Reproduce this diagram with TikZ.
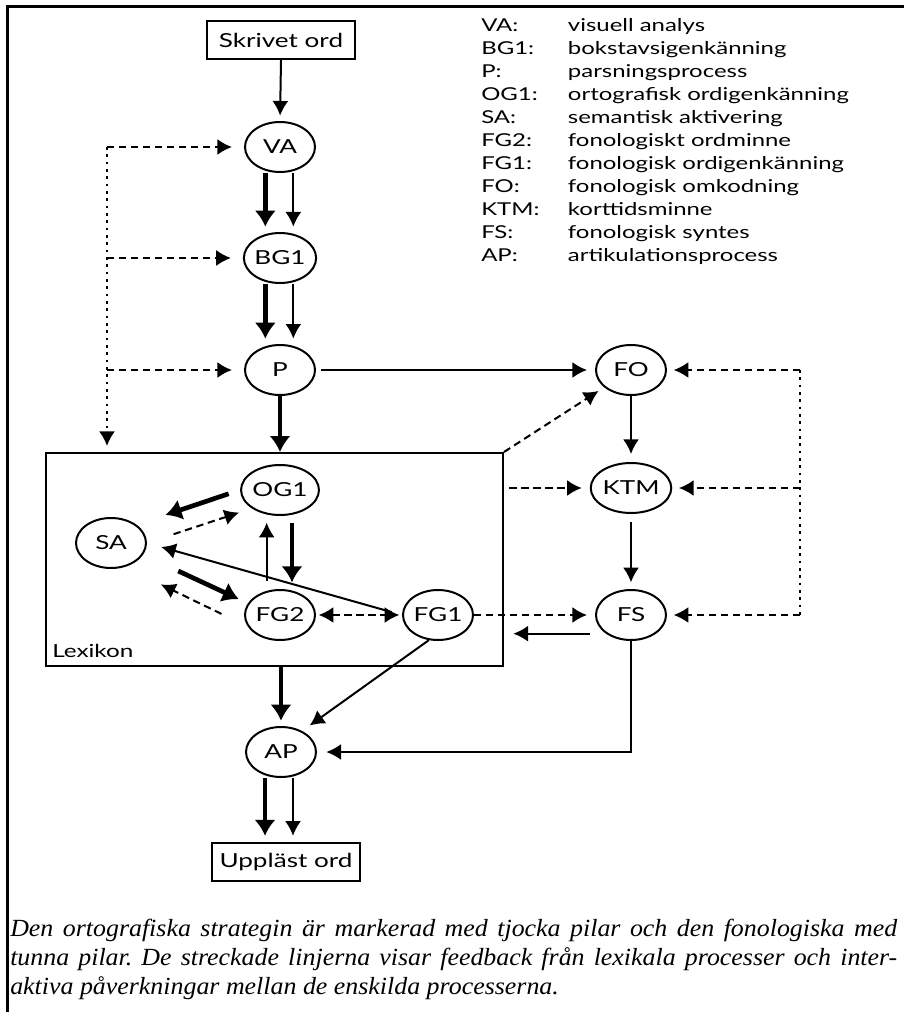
\documentclass[tikz,border=0pt]{standalone}
\usepackage{fontspec}
\newfontfamily\gillfont{Lato}[FakeStretch=1.35]
\newfontfamily\captfont{Liberation Serif}[FakeStretch=1.05]
\usetikzlibrary{arrows.meta,shapes.geometric}

\begin{document}
\begin{tikzpicture}[x=0.75pt, y=-0.75pt,
  proc/.style={draw, ellipse, line width=1.5pt, minimum width=52.5pt, minimum height=37.5pt, inner sep=0pt, font=\gillfont\fontsize{14.5}{16}\selectfont},
  endbox/.style={draw, rectangle, line width=1.8pt, minimum width=111pt, minimum height=28.5pt, inner sep=0pt, font=\gillfont\fontsize{14.5}{16}\selectfont},
  thinar/.style={line width=1.5pt, -{Latex[length=11pt,width=12pt]}},
  thickar/.style={line width=3.5pt, -{Latex[length=12pt,width=16pt]}},
  fb/.style={line width=1.5pt, dash pattern=on 5.5pt off 3.5pt, -{Latex[length=11pt,width=12pt]}},
  fbline/.style={line width=1.5pt, dash pattern=on 2pt off 3.5pt}]
\useasboundingbox (0,0) rectangle (904,1012);
\draw[line width=2.25pt] (7,1012) -- (7,7) -- (904,7);
\node[endbox] (skriv) at (281,40) {Skrivet ord};
\node[proc] (va) at (280,147) {VA};
\node[proc] (bg) at (280,258) {BG1};
\node[proc] (p) at (280,370) {P};
\node[proc] (fo) at (631,370) {FO};
\node[proc] (ktm) at (631,488) {KTM};
\node[proc] (fs) at (631,615) {FS};
\node[draw, line width=1.5pt, minimum width=342.75pt, minimum height=159.75pt, inner sep=0pt] (lex) at (274.5,559.5) {};
\node[anchor=south west, inner sep=0pt, font=\gillfont\fontsize{13.5}{15}\selectfont] (lexlbl) at ([shift={(7,-9)}]lex.south west) {Lexikon};
\node[proc] (og) at (280,490) {OG1};
\node[proc] (sa) at (111,543) {SA};
\node[proc] (fgtwo) at (280,615) {FG2};
\node[proc] (fgone) at (438,615) {FG1};
\node[proc] (ap) at (281,752) {AP};
\node[endbox] (upp) at (286,862) {Uppläst ord};
\node[anchor=north west, inner sep=0pt, font=\gillfont\fontsize{13.3}{17.25}\selectfont] (legend) at (481,15) {\begin{tabular}{@{}p{65pt}@{}l@{}}
VA: & visuell analys\\
BG1: & bokstavsigenkänning\\
P: & parsningsprocess\\
OG1: & ortografisk ordigenkänning\\
SA: & semantisk aktivering\\
FG2: & fonologiskt ordminne\\
FG1: & fonologisk ordigenkänning\\
FO: & fonologisk omkodning\\
KTM: & korttidsminne\\
FS: & fonologisk syntes\\
AP: & artikulationsprocess
\end{tabular}};
\node[anchor=north west, inner sep=0pt, text width=665.25pt, align=justify, font=\captfont\itshape\fontsize{18.5}{21.75}\selectfont] (capt) at (10,919) {\frenchspacing\hyphenpenalty=10000 Den ortografiska strategin är markerad med tjocka pilar och den fonologiska med\linebreak tunna pilar. De streckade linjerna visar feedback från lexikala processer och inter-\linebreak aktiva påverkningar mellan de enskilda processerna.};
\draw[thinar, shorten >=4pt] (skriv.south) -- (va.north);
\draw[thickar, shorten >=4pt] ([xshift=-11pt]va.south) -- ([xshift=-11pt]bg.north);
\draw[thinar, shorten >=4pt] ([xshift=10pt]va.south) -- ([xshift=10pt]bg.north);
\draw[thickar, shorten >=4pt] ([xshift=-11pt]bg.south) -- ([xshift=-11pt]p.north);
\draw[thinar, shorten >=4pt] ([xshift=10pt]bg.south) -- ([xshift=10pt]p.north);
\draw[thickar] (p.south) -- (p |- lex.north);
\draw[thinar, shorten <=4pt, shorten >=6pt] (p.east) -- (fo.west);
\draw[thinar, shorten >=6pt] (fo.south) -- (ktm.north);
\draw[thinar, shorten <=6pt, shorten >=5pt] (ktm.south) -- (fs.north);
\coordinate (fbleft) at (107,147);
\draw[fbline, -{Latex[length=11pt,width=12pt]}, shorten >=4.5pt] (fbleft) -- (fbleft |- lex.north);
\draw[fb, shorten >=9pt] (fbleft) -- (va.west);
\draw[fb, shorten >=9pt] (fbleft |- bg) -- (bg.west);
\draw[fb, shorten >=9pt] (fbleft |- p) -- (p.west);
\coordinate (fbright) at (800,370);
\draw[fbline] (fbright) -- (fbright |- fs);
\draw[fb, shorten >=5pt] (fbright) -- (fo.east);
\draw[fb, shorten >=5pt] (fbright |- ktm) -- (ktm.east);
\draw[fb, shorten >=5pt] (fbright |- fs) -- (fs.east);
\draw[fb, shorten >=5pt] (lex.north east) -- (fo);
\draw[fb, shorten <=4pt, shorten >=6pt] (lex.east |- ktm) -- (ktm.west);
\draw[fb, shorten >=6pt] (fgone.east) -- (fs.west);
\draw[thinar, shorten <=4pt, shorten >=7pt] ([yshift=-14pt]fs.west) -- ([yshift=-14pt]fs.west -| lex.east);
\draw[thinar, shorten >=7pt] (fs.south) |- (ap.east);
\draw[thickar, shorten >=4pt] (ap |- lex.south) -- (ap.north);
\draw[thinar, shorten >=7pt] (fgone.250) -- (ap.45);
\draw[thickar, shorten >=4.5pt] ([xshift=-12pt]ap.south) -- ([xshift=-12pt]ap.south |- upp.north);
\draw[thinar, shorten >=4.5pt] ([xshift=9pt]ap.south) -- ([xshift=9pt]ap.south |- upp.north);
\draw[thickar, shorten <=9pt, shorten >=23pt] (og.west) -- (sa.north east);
\draw[fb, shorten <=21pt, shorten >=10pt] (sa.east) -- (og.south west);
\draw[thinar, shorten <=8pt, shorten >=11pt] (fgone.west) -- (sa.east);
\draw[thinar, shorten <=6pt, shorten >=5pt] ([xshift=-10pt]fgtwo.north) -- ([xshift=-10pt]og.south);
\draw[thickar, shorten <=5pt, shorten >=5pt] ([xshift=9pt]og.south) -- ([xshift=9pt]fgtwo.north);
\draw[thickar, shorten <=29pt, shorten >=7.5pt] (sa.-20) -- (fgtwo.160);
\draw[fb, shorten <=22pt, shorten >=30pt] (fgtwo.200) -- (sa.-60);
\draw[fb, {Latex[length=11pt,width=12pt]}-{Latex[length=11pt,width=12pt]}, shorten <=2pt, shorten >=2pt] (fgtwo.east) -- (fgone.west);
\end{tikzpicture}
\end{document}
